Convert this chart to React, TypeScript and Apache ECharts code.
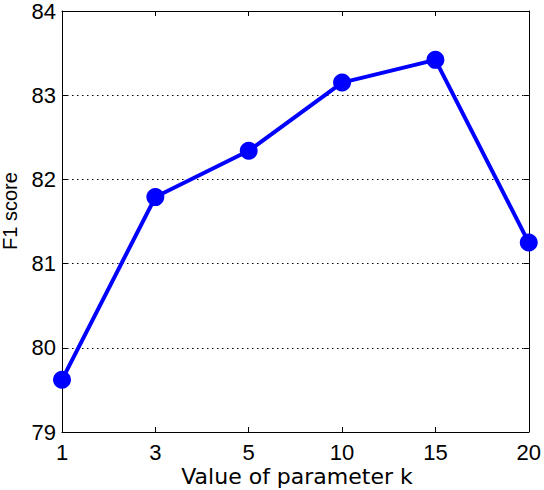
import React, { useEffect, useRef } from "react";
import * as echarts from "echarts";

const categories: string[] = ["1", "3", "5", "10", "15", "20"];
const f1Scores: number[] = [79.62, 81.79, 82.34, 83.15, 83.42, 81.25];
const yMin = 79;
const yMax = 84;
const yInterval = 1;
const xTitle = "Value of parameter k";
const yTitle = "F1 score";

const tickFont = "'Liberation Sans', Arial, Helvetica, sans-serif";

export default function App() {
  const ref = useRef<HTMLDivElement>(null);
  useEffect(() => {
    if (!ref.current) return;
    document.body.style.margin = "0";
    const chart = echarts.init(ref.current, undefined, { renderer: "svg" });
    const axisLine = { show: true, lineStyle: { color: "#000", width: 1 } };
    const tick = { show: true, inside: true, length: 5, lineStyle: { color: "#000", width: 1 } };
    chart.setOption({
      animation: false,
      backgroundColor: "#fff",
      grid: { left: 62, right: 12, top: 10, bottom: 58, containLabel: false },
      xAxis: [
        {
          type: "category",
          data: categories,
          boundaryGap: false,
          position: "bottom",
          axisLine,
          axisTick: { ...tick, alignWithLabel: true },
          axisLabel: { color: "#000", fontSize: 22, fontFamily: tickFont, margin: 9, showMinLabel: true, showMaxLabel: true },
          splitLine: { show: false },
        },
        {
          type: "category",
          data: categories,
          boundaryGap: false,
          position: "top",
          axisLine,
          axisTick: tick,
          axisLabel: { show: false },
          splitLine: { show: false },
        },
      ],
      yAxis: [
        {
          type: "value",
          min: yMin,
          max: yMax,
          interval: yInterval,
          position: "left",
          axisLine,
          axisTick: tick,
          axisLabel: { color: "#000", fontSize: 22, fontFamily: tickFont, margin: 6 },
          splitLine: { show: true, lineStyle: { color: "#000", width: 1, type: [1.5, 3.5] } },
        },
        {
          type: "value",
          min: yMin,
          max: yMax,
          interval: yInterval,
          position: "right",
          axisLine,
          axisTick: tick,
          axisLabel: { show: false },
          splitLine: { show: false },
        },
      ],
      series: [
        {
          type: "line",
          data: f1Scores,
          xAxisIndex: 0,
          yAxisIndex: 0,
          symbol: "circle",
          symbolSize: 18,
          showSymbol: true,
          lineStyle: { color: "#0000ff", width: 4 },
          itemStyle: { color: "#0000ff" },
          z: 5,
        },
      ],
      graphic: [
        {
          type: "text",
          x: 297,
          y: 476,
          style: {
            text: xTitle,
            fill: "#000",
            fontSize: 22,
            fontFamily: "'DejaVu Sans', sans-serif",
            align: "center",
            verticalAlign: "middle",
          },
        },
        {
          type: "text",
          x: 10,
          y: 211,
          rotation: Math.PI / 2,
          style: {
            text: yTitle,
            fill: "#000",
            fontSize: 20,
            fontFamily: tickFont,
            align: "center",
            verticalAlign: "middle",
          },
        },
      ],
    });
    return () => chart.dispose();
  }, []);
  return <div ref={ref} style={{ position: "absolute", left: 0, top: 0, width: 544, height: 490 }} />;
}
